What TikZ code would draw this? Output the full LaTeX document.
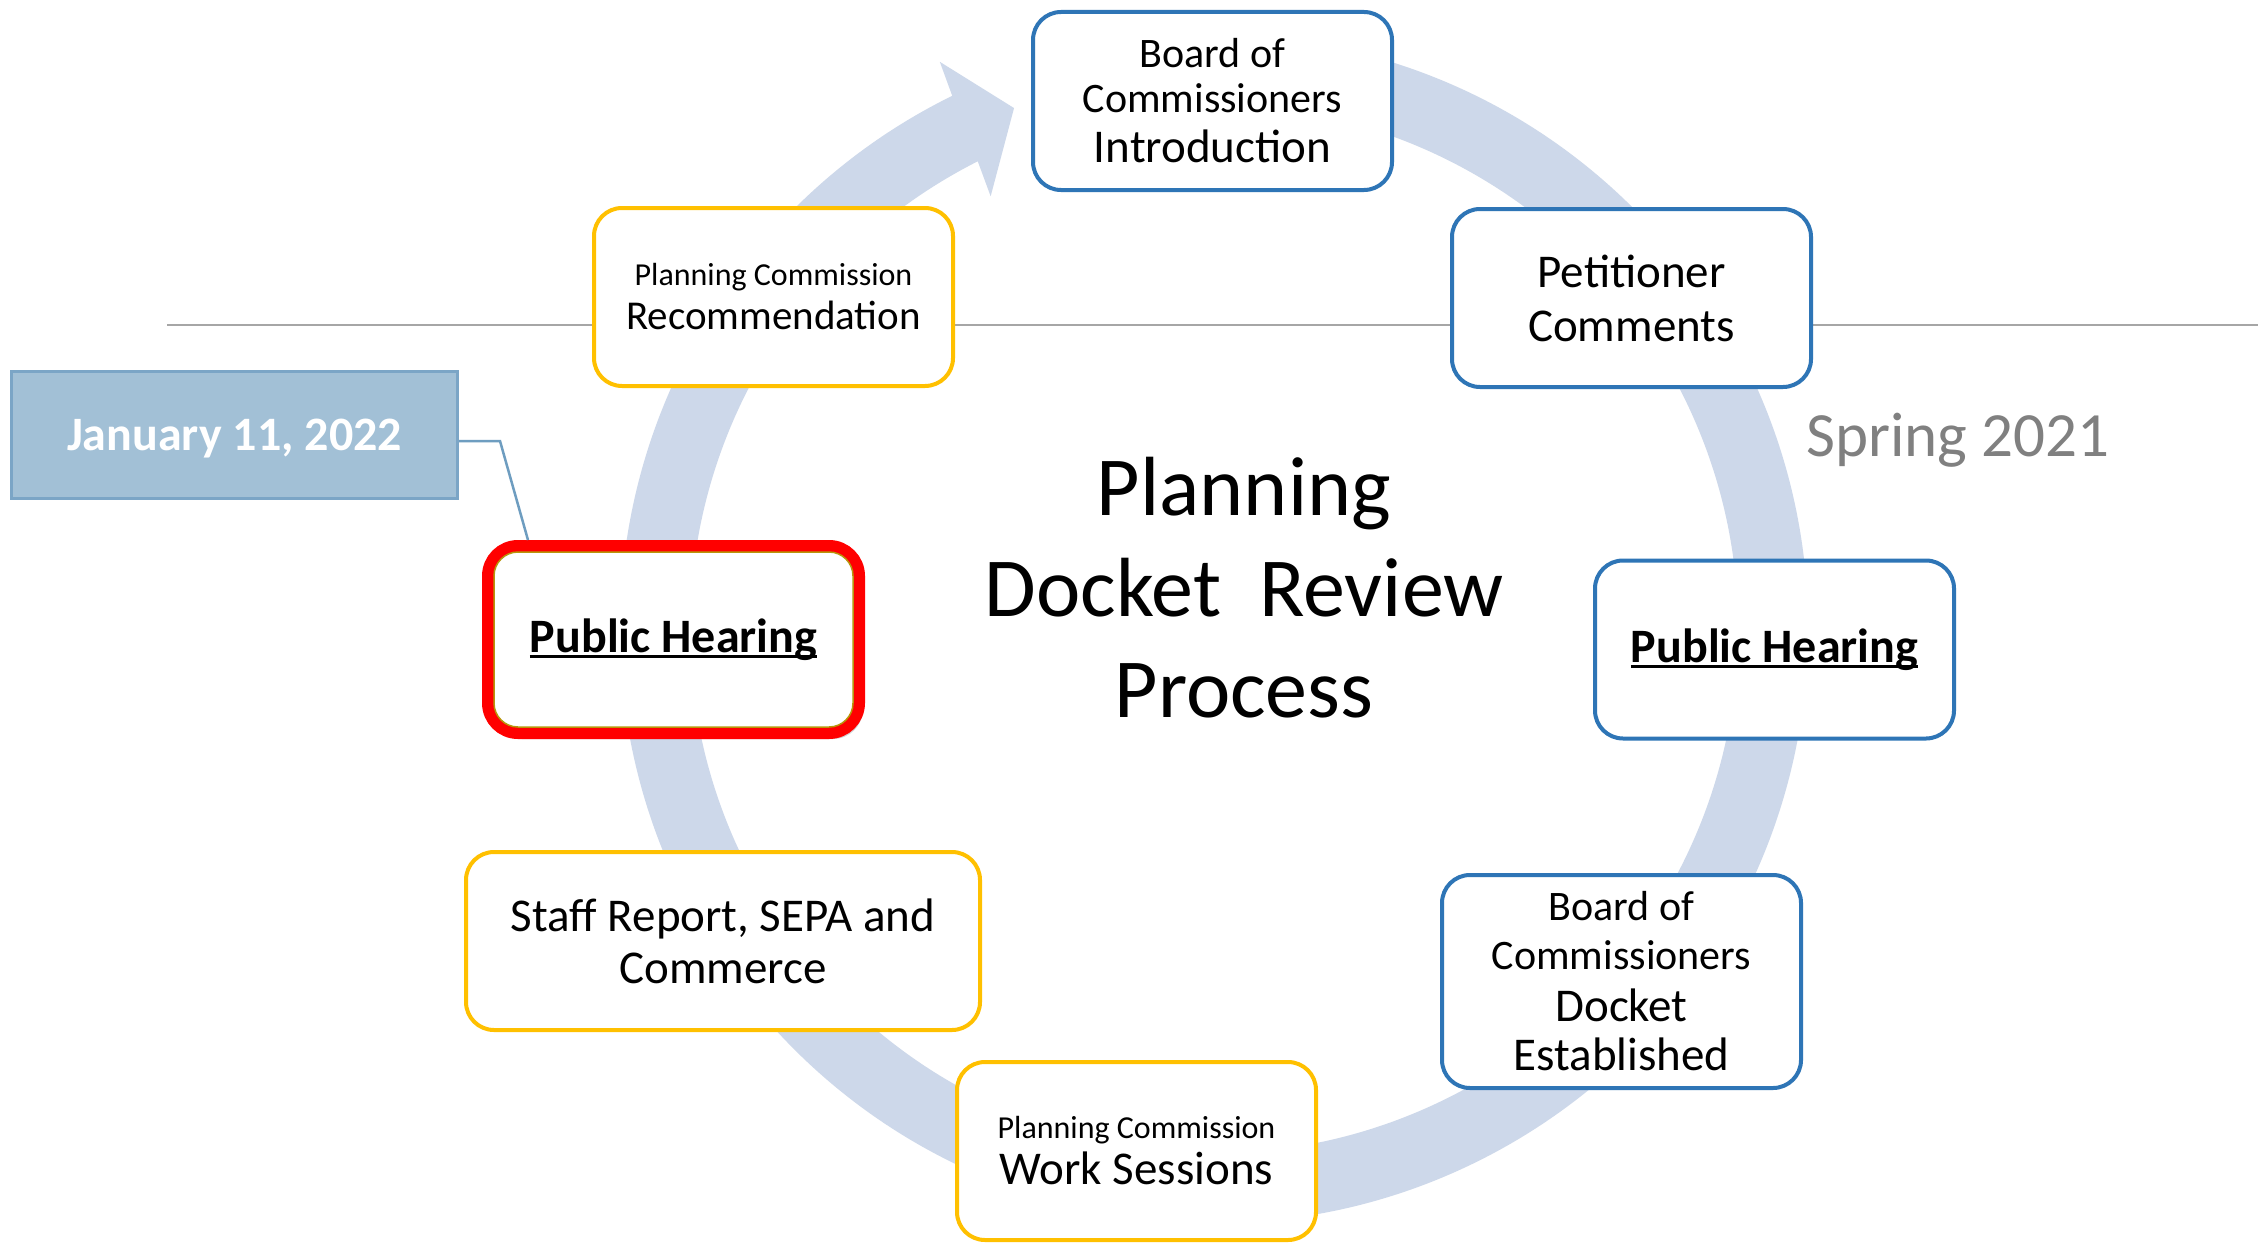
\documentclass[tikz,border=0pt]{standalone}
\usepackage{fontspec}
\setmainfont{Carlito}
\usetikzlibrary{shadows,calc}
\definecolor{boxblue}{HTML}{2E75B6}
\definecolor{boxyellow}{HTML}{FFC000}
\definecolor{ringc}{HTML}{CDD8EA}
\definecolor{hlgray}{HTML}{A6A6A6}
\definecolor{callfill}{HTML}{A2C0D6}
\definecolor{calldraw}{HTML}{7BA5C6}
\definecolor{connc}{HTML}{6E9DC0}
\definecolor{springgray}{HTML}{808080}
\definecolor{innerolive}{HTML}{B8960B}
\newcommand\fsz[2]{\fontsize{#1}{#2}\selectfont}
\newcommand\phul[1]{\setbox0\hbox{#1}\rlap{\rule[-6pt]{\wd0}{3pt}}\box0}
\tikzset{
  stepbox/.style={draw, rounded corners=28pt, line width=4pt, fill=white,
    minimum width=359pt, minimum height=178pt, align=center, inner sep=0pt},
  bluebox/.style={stepbox, draw=boxblue},
  ylwbox/.style={stepbox, draw=boxyellow},
}
\begin{document}
\begin{tikzpicture}[x=1pt,y=-1pt]
\useasboundingbox[fill=white] (0,0) rectangle (2258,1244);
% horizontal timeline
\coordinate (hlA) at (167,325);
\coordinate (hlB) at (2258,325);
\draw[hlgray, line width=2pt] (hlA) -- (hlB);
% circular arrow
\begin{scope}[shift={(1214,629)}]
\fill[ringc] (-80:594) arc[start angle=-80, end angle=243.85, radius=594]
  -- (244.2:630) -- (249:558) -- (242.7:487) -- (243.2:524)
  arc[start angle=243.2, end angle=-80, radius=524] -- cycle;
\end{scope}
% title
\node[align=center, font=\fsz{84}{101}] (title) at (1244,588)
  {Planning\\Docket\ \ Review\\Process};
\node[text=springgray, font=\fsz{63}{70}] (spr) at (1958,440) {Spring 2021};
% boxes
\node[bluebox, font=\fsz{42}{45}] (bci) at (1212.5,101)
  {Board of\\Commissioners\\[5pt]\fsz{47}{45}Introduction};
\node[bluebox, font=\fsz{47}{54}] (pet) at (1631.5,298)
  {Petitioner\\Comments};
\node[bluebox, font=\bfseries\fsz{48}{58}] (phr) at (1774.5,649.5)
  {\phul{Public Hearing}};
\node[bluebox, minimum height=213pt, font=\fsz{42}{49}] (bcd) at (1621.5,981.5)
  {Board of\\Commissioners\\[3pt]\fsz{47}{49}Docket\\\fsz{47}{49}Established};
\node[ylwbox, font=\fsz{32}{46}] (pcw) at (1136.5,1151)
  {Planning Commission\\\fsz{47}{46}Work Sessions};
\node[ylwbox, minimum width=514pt, font=\fsz{47}{52}] (stf) at (723,941)
  {Staff Report, SEPA and\\Commerce};
\node[ylwbox, font=\fsz{32}{44}] (pcr) at (773.5,297)
  {Planning Commission\\\fsz{41}{44}Recommendation};
% highlighted public hearing
\node[draw=red, line width=12pt, fill=white, rounded corners=30pt,
  minimum width=371pt, minimum height=187pt, inner sep=0pt,
  font=\bfseries\fsz{48}{58},
  drop shadow={shadow xshift=4pt, shadow yshift=-6pt, opacity=0.35}] (phl) at (673.5,639.5)
  {\phul{Public Hearing}};
\draw[innerolive, line width=1.5pt, rounded corners=24pt]
  ($(phl.north west)+(12,12)$) rectangle ($(phl.south east)+(-12,-12)$);
% date callout
\node[draw=calldraw, fill=callfill, line width=3pt, minimum width=446pt,
  minimum height=127pt, text height=31pt, text depth=0pt, text=white,
  font=\bfseries\fsz{48}{58}] (jan) at (234.5,435)
  {January 11, 2022};
\coordinate (janout) at ($(jan.east)+(0,6)$);
\coordinate (janbend) at (500,441);
\coordinate (phtop) at ($(phl.north west)+(46,0)$);
\draw[connc, line width=2.5pt] (janout) -- (janbend) -- (phtop);
\end{tikzpicture}
\end{document}
